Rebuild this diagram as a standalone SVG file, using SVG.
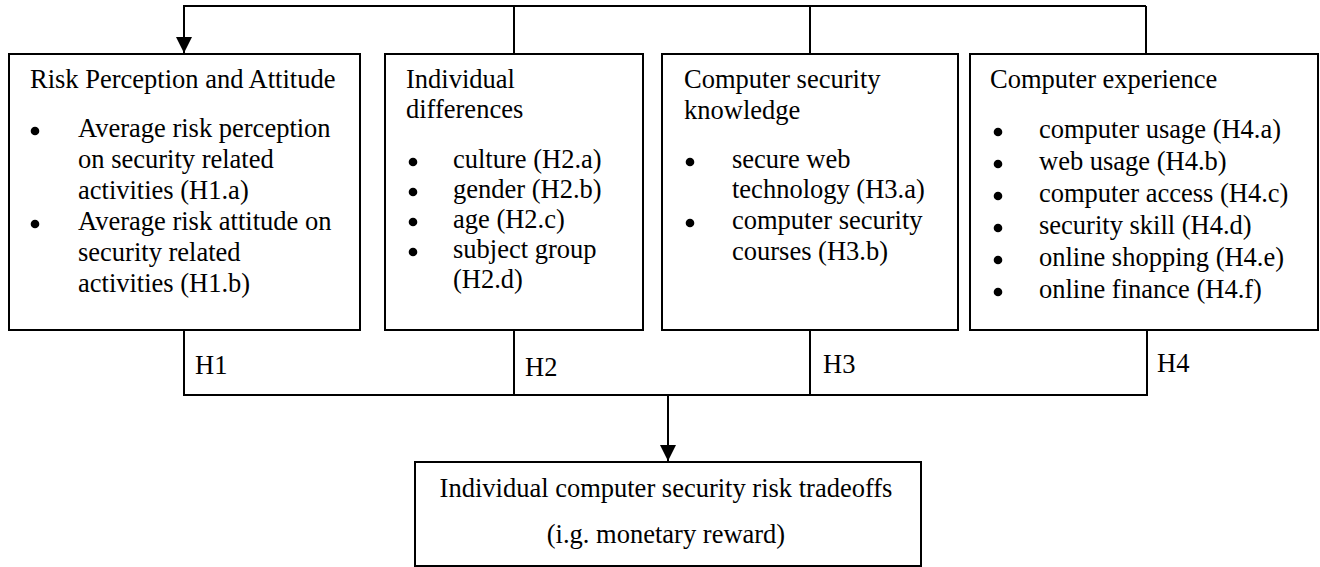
<svg xmlns="http://www.w3.org/2000/svg" width="1320" height="567" viewBox="0 0 1320 567">
<style>
  .box{fill:#fff;stroke:#000;stroke-width:2}
  .ln{fill:none;stroke:#000;stroke-width:2}
  .dot{fill:#000}
  text{font-family:"Liberation Serif","Times New Roman",serif;font-size:26.5px;fill:#000}
  .c{text-anchor:middle}
</style>
<defs>
  <marker id="ah" markerWidth="16" markerHeight="16" refX="16" refY="8" orient="auto" markerUnits="userSpaceOnUse">
    <path d="M0,0 L16,8 L0,16 Z" fill="#000"/>
  </marker>
  <circle id="bul" r="4.3" class="dot"/>
</defs>
<g id="connectors">
  <path class="ln" d="M1146,6 H184 V53" marker-end="url(#ah)"/>
  <path class="ln" d="M514,6 V54"/>
  <path class="ln" d="M810,6 V54"/>
  <path class="ln" d="M1146,6 V54"/>
  <path class="ln" d="M184,330 V395 H1147 V330"/>
  <path class="ln" d="M514,330 V395"/>
  <path class="ln" d="M810,330 V395"/>
  <path class="ln" d="M668,395 V461" marker-end="url(#ah)"/>
  <text x="195" y="374">H1</text>
  <text x="525" y="376">H2</text>
  <text x="823" y="373">H3</text>
  <text x="1157" y="372">H4</text>
</g>
<g id="risk">
  <rect class="box" x="9" y="54" width="351" height="276"/>
  <text x="30" y="88">Risk Perception and Attitude</text>
  <use href="#bul" x="35" y="131"/>
  <text x="78" y="137">Average risk perception</text>
  <text x="78" y="168">on security related</text>
  <text x="78" y="199">activities (H1.a)</text>
  <use href="#bul" x="35" y="224"/>
  <text x="78" y="230">Average risk attitude on</text>
  <text x="78" y="261">security related</text>
  <text x="78" y="292">activities (H1.b)</text>
</g>
<g id="individual">
  <rect class="box" x="385" y="54" width="258" height="276"/>
  <text x="406" y="88">Individual</text>
  <text x="406" y="118">differences</text>
  <use href="#bul" x="413" y="162"/>
  <text x="453" y="168">culture (H2.a)</text>
  <use href="#bul" x="413" y="192"/>
  <text x="453" y="198">gender (H2.b)</text>
  <use href="#bul" x="413" y="222"/>
  <text x="453" y="228">age (H2.c)</text>
  <use href="#bul" x="413" y="252"/>
  <text x="453" y="258">subject group</text>
  <text x="453" y="288">(H2.d)</text>
</g>
<g id="knowledge">
  <rect class="box" x="662" y="54" width="296" height="276"/>
  <text x="684" y="88">Computer security</text>
  <text x="684" y="119">knowledge</text>
  <use href="#bul" x="690" y="162"/>
  <text x="732" y="168">secure web</text>
  <text x="732" y="198">technology (H3.a)</text>
  <use href="#bul" x="690" y="223"/>
  <text x="732" y="229">computer security</text>
  <text x="732" y="260">courses (H3.b)</text>
</g>
<g id="experience">
  <rect class="box" x="970" y="54" width="348" height="276"/>
  <text x="990" y="88">Computer experience</text>
  <use href="#bul" x="998" y="132"/>
  <text x="1039" y="138">computer usage (H4.a)</text>
  <use href="#bul" x="998" y="164"/>
  <text x="1039" y="170">web usage (H4.b)</text>
  <use href="#bul" x="998" y="196"/>
  <text x="1039" y="202">computer access (H4.c)</text>
  <use href="#bul" x="998" y="228"/>
  <text x="1039" y="234">security skill (H4.d)</text>
  <use href="#bul" x="998" y="260"/>
  <text x="1039" y="266">online shopping (H4.e)</text>
  <use href="#bul" x="998" y="292"/>
  <text x="1039" y="298">online finance (H4.f)</text>
</g>
<g id="tradeoffs">
  <rect class="box" x="415" y="462" width="506" height="104"/>
  <text class="c" x="666" y="497">Individual computer security risk tradeoffs</text>
  <text class="c" x="666" y="543">(i.g. monetary reward)</text>
</g>
</svg>
